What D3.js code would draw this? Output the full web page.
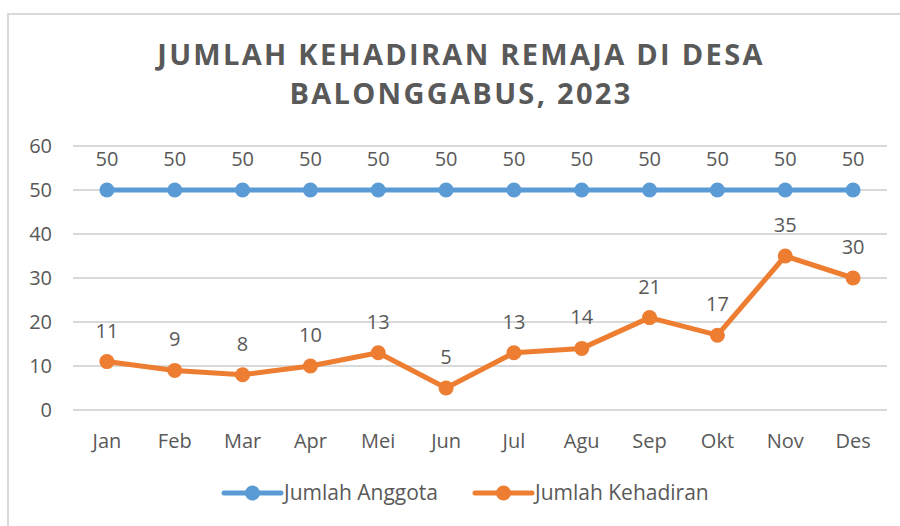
<!DOCTYPE html>
<html>
<head>
<meta charset="utf-8">
<script src="https://cdn.jsdelivr.net/npm/d3@7"></script>
<style>
  body { margin: 0; background: #fff; }
  text { font-family: "Open Sans", sans-serif; fill: #595959; }
</style>
</head>
<body>
<div id="chart"></div>
<script>
const months = ["Jan", "Feb", "Mar", "Apr", "Mei", "Jun", "Jul", "Agu", "Sep", "Okt", "Nov", "Des"];
const anggota = [50, 50, 50, 50, 50, 50, 50, 50, 50, 50, 50, 50];
const kehadiran = [11, 9, 8, 10, 13, 5, 13, 14, 21, 17, 35, 30];
const yTicks = [0, 10, 20, 30, 40, 50, 60];
const titleLines = ["JUMLAH KEHADIRAN REMAJA DI DESA", "BALONGGABUS, 2023"];
const seriesNames = ["Jumlah Anggota", "Jumlah Kehadiran"];
const colors = ["#5b9bd5", "#ed7d31"];

const W = 900, H = 526;
const svg = d3.select("#chart").append("svg")
    .attr("width", W)
    .attr("height", H);

// chart frame (only top/left edges visible in the picture)
svg.append("rect")
    .attr("x", 8).attr("y", 14)
    .attr("width", 1000).attr("height", 1000)
    .style("fill", "none")
    .style("stroke", "#d9d9d9")
    .style("stroke-width", 2);

// title
svg.append("g").selectAll("text")
    .data(titleLines)
    .enter().append("text")
    .attr("x", 461)
    .attr("y", (d, i) => 65 + i * 39)
    .attr("text-anchor", "middle")
    .style("font-size", "29px")
    .style("font-weight", "bold")
    .style("letter-spacing", "2.3px")
    .text(d => d);

const xScale = d3.scaleBand()
    .domain(months)
    .range([73, 887]);

const yScale = d3.scaleLinear()
    .domain([0, 60])
    .range([410, 146]);

// gridlines
svg.append("g").selectAll("line")
    .data(yTicks)
    .enter().append("line")
    .attr("x1", 73).attr("x2", 887)
    .attr("y1", d => yScale(d)).attr("y2", d => yScale(d))
    .style("stroke", "#d9d9d9")
    .style("stroke-width", 2);

// y axis labels
const yAxis = d3.axisLeft(yScale).tickValues(yTicks).tickSize(0).tickPadding(0);
svg.append("g")
    .attr("transform", "translate(52,0)")
    .call(yAxis)
    .call(g => g.select(".domain").remove())
    .call(g => g.selectAll("text").style("font-size", "20px").attr("fill", "#595959").style("font-family", "Open Sans"));

// x axis labels
const xAxis = d3.axisBottom(xScale).tickSize(0).tickPadding(0);
svg.append("g")
    .attr("transform", "translate(0,434)")
    .call(xAxis)
    .call(g => g.select(".domain").remove())
    .call(g => g.selectAll("text").style("font-size", "20px").attr("fill", "#595959").style("font-family", "Open Sans"));

const cx = m => xScale(m) + xScale.bandwidth() / 2;
const line = d3.line()
    .x((d, i) => cx(months[i]))
    .y(d => yScale(d));

[anggota, kehadiran].forEach((vals, s) => {
    const g = svg.append("g");
    g.append("path")
        .datum(vals)
        .attr("d", line)
        .style("fill", "none")
        .style("stroke", colors[s])
        .style("stroke-width", 5)
        .style("stroke-linejoin", "round")
        .style("stroke-linecap", "round");
    g.selectAll("circle")
        .data(vals)
        .enter().append("circle")
        .attr("cx", (d, i) => cx(months[i]))
        .attr("cy", d => yScale(d))
        .attr("r", 7.5)
        .style("fill", colors[s]);
    g.selectAll("text")
        .data(vals)
        .enter().append("text")
        .attr("x", (d, i) => cx(months[i]))
        .attr("y", d => yScale(d) - 24)
        .attr("text-anchor", "middle")
        .style("font-size", "20px")
        .text(d => d);
});

// legend
const legendX = [224, 475];
const legend = svg.selectAll(".legend-item")
    .data(seriesNames)
    .enter().append("g")
    .attr("class", "legend-item")
    .attr("transform", (d, i) => `translate(${legendX[i]},493)`);

legend.append("line")
    .attr("x1", 0).attr("x2", 57)
    .attr("y1", 0).attr("y2", 0)
    .style("stroke", (d, i) => colors[i])
    .style("stroke-width", 5)
    .style("stroke-linecap", "round");

legend.append("circle")
    .attr("cx", 28.5).attr("cy", 0)
    .attr("r", 7.5)
    .style("fill", (d, i) => colors[i]);

legend.append("text")
    .attr("x", 60)
    .attr("y", 7)
    .style("font-size", "21px")
    .text(d => d);
</script>
</body>
</html>
